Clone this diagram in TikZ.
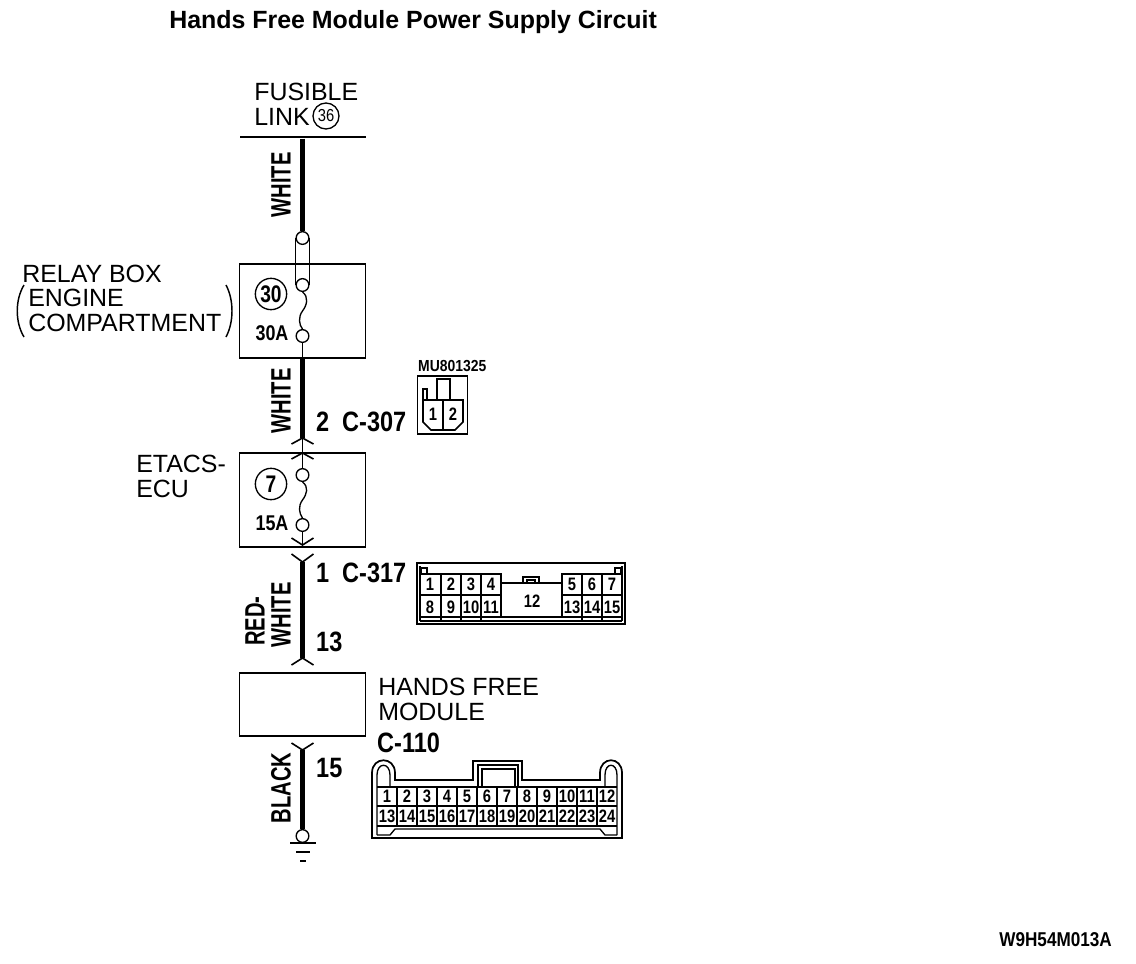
\documentclass[tikz,border=0pt]{standalone}
\usepackage{fontspec}
\setmainfont{Liberation Sans}
\usetikzlibrary{shapes.geometric, arrows}
\tikzstyle{lbl} = [inner sep=0, anchor=base west, font=\fontsize{18.7}{18.7}\selectfont]
\tikzstyle{narrow} = [inner sep=0, transform shape, xscale=.84, font=\bfseries\fontsize{21}{21}\selectfont]
\tikzstyle{wirelbl} = [inner sep=0, rotate=90, transform shape, xscale=.72, font=\bfseries\fontsize{21}{21}\selectfont]
\tikzstyle{pin} = [inner sep=0, transform shape, xscale=.82, font=\bfseries\fontsize{13.5}{13.5}\selectfont]
\tikzstyle{unitbox} = [rectangle, draw=black, line width=1.4pt, minimum width=94.5pt, inner sep=0]
\tikzstyle{junction} = [circle, draw=black, line width=1pt, fill=white, minimum size=9.5pt, inner sep=0]
\tikzstyle{fuseno} = [circle, draw=black, line width=1pt, minimum size=23.5pt, inner sep=0, font=\bfseries\fontsize{18}{18}\selectfont]
\tikzstyle{thickwire} = [line width=3.4pt]
\tikzstyle{thinwire} = [line width=1pt]
\tikzstyle{fork} = [line width=1.2pt]
\tikzstyle{conn} = [line width=1.3pt]
\begin{document}
\begin{tikzpicture}[x=.75pt,y=-.75pt]
\useasboundingbox (0,0) rectangle (1136,964);

\node (title) [inner sep=0, anchor=base west, font=\bfseries\fontsize{18.7}{18.7}\selectfont] at (169,28) {Hands Free Module Power Supply Circuit};
\node (fusible) [lbl] at (254,100) {FUSIBLE};
\node (link) [lbl] at (254,125) {LINK};
\node (linkno) [circle, draw=black, line width=1pt, minimum size=19.5pt, inner sep=0, font=\fontsize{13}{13}\selectfont] at (326,116) {\scalebox{.85}[1]{36}};
\node (busbar) [rectangle, fill=black, minimum width=94.5pt, minimum height=2.2pt, inner sep=0] at (302.5,137) {};

% boxes
\node (relaybox) [unitbox, minimum height=71pt] at (302.5,311) {};
\node (etacsbox) [unitbox, minimum height=71pt] at (302.5,500) {};
\node (modbox) [unitbox, minimum height=47.5pt] at (302.5,704.5) {};

\node (relaylbl) [lbl] at (22,282) {RELAY BOX};
\node (enginelbl) [lbl] at (28,306) {ENGINE};
\node (complbl) [lbl] at (28,331) {COMPARTMENT};
\node (etacslbl) [lbl] at (136,472) {ETACS-};
\node (eculbl) [lbl] at (136,497) {ECU};
\node (handslbl) [lbl] at (378,695) {HANDS FREE};
\node (modlbl) [lbl] at (378,720) {MODULE};

\draw [line width=1.1pt] (24,285) .. controls (15,300) and (15,322) .. (24,337);
\draw [line width=1.1pt] (226,285) .. controls (234,300) and (234,322) .. (226,337);

% junctions and fuses
\node (j1) [junction] at (302.5,238) {};
\node (j2) [junction] at (302.5,285) {};
\node (j3) [junction] at (302.5,336) {};
\node (j4) [junction] at (302.5,475) {};
\node (j5) [junction] at (302.5,525) {};
\node (j6) [junction] at (302.5,836) {};
\node (f30) [fuseno] at (271,294) {\scalebox{.8}[1]{30}};
\node (f7) [fuseno] at (271,484) {\scalebox{.8}[1]{7}};
\node (a30) [narrow, font=\bfseries\fontsize{16}{16}\selectfont] at (272,333) {30A};
\node (a15) [narrow, font=\bfseries\fontsize{16}{16}\selectfont] at (272,523) {15A};

\coordinate (c1) at (302.5,438);
\coordinate (c2) at (302.5,453);
\coordinate (c3) at (302.5,545);
\coordinate (c4) at (302.5,562);
\coordinate (c5) at (302.5,658);
\coordinate (c6) at (302.5,750);

\draw [thickwire] (busbar) -- (j1);
\draw [thinwire] (j1.west) -- (j2.west);
\draw [thinwire] (j1.east) -- (j2.east);
\draw [thinwire] (j2.south) .. controls (309,297) and (307,305) .. (302.5,311) .. controls (298,317) and (299,325) .. (j3.north);
\draw [thinwire] (j3) -- (relaybox.south);
\draw [thickwire] (relaybox.south) -- (c1);
\draw [thinwire] (c1) -- (j4);
\draw [thinwire] (j4.south) .. controls (309,487) and (307,494) .. (302.5,500) .. controls (298,506) and (299,513) .. (j5.north);
\draw [thinwire] (j5) -- (c3);
\draw [thickwire] (c4) -- (c5);
\draw [thickwire] (c6) -- (j6);
\draw [fork] (c1) ++(-11,6) -- (c1) -- ++(11,6);
\draw [fork] (c2) ++(-11,6) -- (c2) -- ++(11,6);
\draw [fork] (c3) ++(-11,-7) -- (c3) -- ++(11,-7);
\draw [fork] (c4) ++(-11,-8) -- (c4) -- ++(11,-8);
\draw [fork] (c5) ++(-11,7) -- (c5) -- ++(11,7);
\draw [fork] (c6) ++(-11,-7) -- (c6) -- ++(11,-7);

% ground
\node (g1) [rectangle, fill=black, minimum width=19.5pt, minimum height=1.1pt, inner sep=0] at (302.5,843) {};
\node (g2) [rectangle, fill=black, minimum width=10.5pt, minimum height=1.1pt, inner sep=0] at (302.5,852) {};
\node (g3) [rectangle, fill=black, minimum width=4.5pt, minimum height=1.4pt, inner sep=0] at (302.5,861) {};

% wire colours and numbers
\node (white1) [wirelbl] at (281,185) {WHITE};
\node (white2) [wirelbl] at (281,401) {WHITE};
\node (white3) [wirelbl] at (281,615) {WHITE};
\node (red) [wirelbl] at (255,621) {RED-};
\node (black) [wirelbl] at (281,788) {BLACK};
\node (c307) [narrow, anchor=base west] at (316,431) {2\hspace{.55em}C-307};
\node (c317) [narrow, anchor=base west] at (316,582) {1\hspace{.55em}C-317};
\node (n13) [narrow, anchor=base west] at (316,651) {13};
\node (n15) [narrow, anchor=base west] at (316,777) {15};
\node (c110) [narrow, anchor=base west] at (377,752) {C-110};
\node (drawno) [narrow, anchor=base east, xscale=1.02, font=\bfseries\fontsize{15}{15}\selectfont] at (1112,946) {W9H54M013A};

% connector MU801325
\node (mu) [inner sep=0, anchor=base west, transform shape, xscale=.87, font=\bfseries\fontsize{12}{12}\selectfont] at (418,371) {MU801325};
\node (mubox) [rectangle, draw=black, line width=1pt, minimum width=37.5pt, minimum height=43.5pt, inner sep=0] at (442.5,405) {};
\draw [conn] (423,400) -- (463,400) -- (463,422) -- (455,430) -- (431,430) -- (423,422) -- cycle;
\draw [conn] (443,400) -- (443,430);
\draw [conn] (437,400) -- (437,379) -- (450,379) -- (450,400);
\draw [conn] (423,400) -- (423,389) -- (427,389) -- (427,400);
\node (mu1) [pin] at (433,414) {1};
\node (mu2) [pin] at (453,414) {2};

% connector C-317
\node (c317box) [rectangle, draw=black, line width=1.3pt, minimum width=156.5pt, minimum height=46pt, inner sep=0] at (521,593.5) {};
\draw [thinwire] (420,566) -- (420,621) (622,566) -- (622,621);
\draw [conn] (420,574) -- (501,574) -- (501,617);
\draw [conn] (562,617) -- (562,574) -- (622,574);
\draw [conn] (420,595) -- (501,595) (562,595) -- (622,595);
\draw [conn] (420,617) -- (622,617);
\draw [thinwire] (420,621) -- (622,621);
\draw [conn] (501,583) -- (562,583);
\draw [conn] (523,583) -- (523,577) -- (539,577) -- (539,583);
\draw [thinwire] (527,583) -- (527,580) -- (535,580) -- (535,583);
\draw [thinwire] (421,574) -- (421,568) -- (427,568) -- (427,574);
\draw [thinwire] (621,574) -- (621,568) -- (615,568) -- (615,574);
\foreach \x in {441,461,481} \draw [conn] (\x,574) -- (\x,621);
\foreach \x in {582,602} \draw [conn] (\x,574) -- (\x,621);
\foreach \n/\x in {1/430,2/451,3/471,4/491,5/572,6/592,7/612}
  \node (pa\n) [pin] at (\x,584) {\n};
\foreach \n/\x in {8/430,9/451,10/471,11/491,13/572,14/592,15/612}
  \node (pa\n) [pin] at (\x,607) {\n};
\node (pa12) [pin] at (532,601) {12};

% connector C-110
\draw [conn] (372,838) -- (372,773) .. controls (372,756) and (395,756) .. (395,773) -- (395,780) -- (473,780) -- (473,761) -- (522,761) -- (522,780) -- (600,780) -- (600,773) .. controls (600,756) and (622,756) .. (622,773) -- (622,838) -- cycle;
\draw [thinwire] (377,835) -- (377,775) .. controls (377,762) and (390,762) .. (390,775) -- (390,787);
\draw [thinwire] (605,787) -- (605,775) .. controls (605,762) and (617,762) .. (617,775) -- (617,835);
\draw [thinwire] (478,787) -- (478,765) -- (518,765) -- (518,787);
\draw [conn] (482,787) -- (482,769) -- (515,769) -- (515,787);
\draw [conn] (377,787) -- (617,787);
\draw [conn] (377,806) -- (617,806);
\draw [conn] (377,826) -- (617,826);
\draw [thinwire] (377,835) -- (390,835) -- (395,829) -- (600,829) -- (605,835) -- (617,835);
\foreach \n in {1,...,11}
  \draw [conn] ({377+20*\n},787) -- ({377+20*\n},826);
\foreach \n in {1,...,12} {
  \node (pb\n) [pin] at ({367+20*\n},796.5) {\n};
  \pgfmathtruncatemacro{\m}{\n+12}
  \node (pb\m) [pin] at ({367+20*\n},816) {\m};
}

\end{tikzpicture}
\end{document}
